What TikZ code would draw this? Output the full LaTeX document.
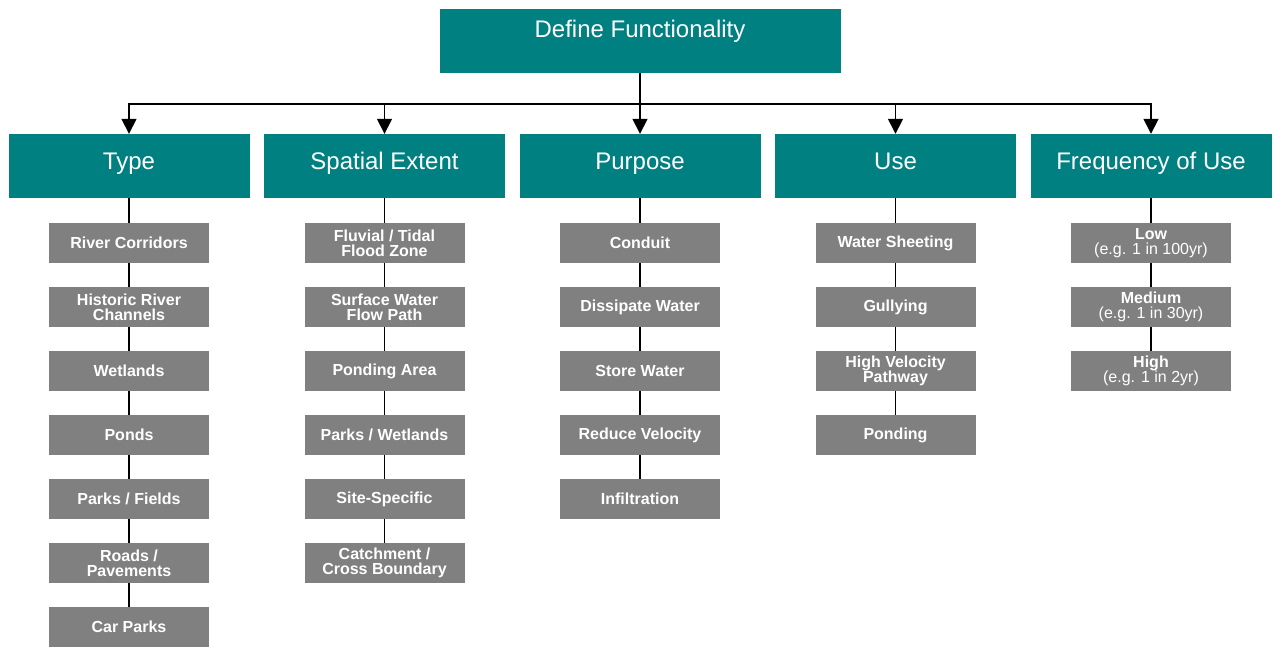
\documentclass[tikz,border=0pt]{standalone}
\usepackage{fontspec}
\setmainfont{Liberation Sans}
\usetikzlibrary{positioning,arrows.meta}

\definecolor{functeal}{RGB}{0,128,128}
\definecolor{itemgray}{RGB}{128,128,128}

\tikzset{
  root/.style={fill=functeal, text=white, inner sep=0pt, minimum width=401pt, minimum height=64pt,
    text height=17pt, text depth=23.6pt, font=\fontsize{24}{26}\selectfont},
  head/.style={fill=functeal, text=white, inner sep=0pt, minimum width=241pt, minimum height=64pt,
    text height=17pt, text depth=10.4pt, font=\fontsize{24}{26}\selectfont},
  item/.style={fill=itemgray, text=white, inner sep=0pt, minimum width=160pt, minimum height=40pt,
    align=center, font=\fontsize{16}{15}\selectfont\bfseries},
  link/.style={draw, line width=1.6pt},
}

\begin{document}
\begin{tikzpicture}[x=1pt, y=1pt, level distance=64pt,
  level 1/.style={level distance=125pt, sibling distance=255.5pt, every child node/.style={head},
    edge from parent/.style={link, -{Triangle[width=15pt,length=15pt]}},
    edge from parent path={(\tikzparentnode.south) -- ++(0,-31) -| (\tikzchildnode.north)}},
  level 2/.style={level distance=77pt, every child node/.style={item},
    edge from parent/.style={link},
    edge from parent path={(\tikzparentnode.south) -- (\tikzchildnode.north)}},
  level 3/.style={level distance=64pt}]
  \useasboundingbox (0,0) rectangle (1273,-646);
  \node[root] (define) at (640,-41) {Define Functionality}
    child { node (type) {Type}
      child { node (corridors) {River Corridors}
        child { node (historic) {Historic River\\Channels}
          child { node (wetlands) {Wetlands}
            child { node (ponds) {Ponds}
              child { node (fields) {Parks / Fields}
                child { node (roads) {Roads /\\Pavements}
                  child { node (carparks) {Car Parks} }
                }
              }
            }
          }
        }
      }
    }
    child { node (extent) {Spatial Extent}
      child { node (fluvial) {Fluvial / Tidal\\Flood Zone}
        child { node (surface) {Surface Water\\Flow Path}
          child { node (pondarea) {Ponding Area}
            child { node (parkwet) {Parks / Wetlands}
              child { node (site) {Site-Specific}
                child { node (catchment) {Catchment /\\Cross Boundary} }
              }
            }
          }
        }
      }
    }
    child { node (purpose) {Purpose}
      child { node (conduit) {Conduit}
        child { node (dissipate) {Dissipate Water}
          child { node (store) {Store Water}
            child { node (reduce) {Reduce Velocity}
              child { node (infiltration) {Infiltration} }
            }
          }
        }
      }
    }
    child { node (use) {Use}
      child { node (sheeting) {Water Sheeting}
        child { node (gullying) {Gullying}
          child { node (pathway) {High Velocity\\Pathway}
            child { node (ponding) {Ponding} }
          }
        }
      }
    }
    child { node (frequency) {Frequency of Use}
      child { node (low) {Low\\\mdseries(e.g. 1 in 100yr)}
        child { node (medium) {Medium\\\mdseries(e.g. 1 in 30yr)}
          child { node (high) {High\\\mdseries(e.g. 1 in 2yr)} }
        }
      }
    };
\end{tikzpicture}
\end{document}
